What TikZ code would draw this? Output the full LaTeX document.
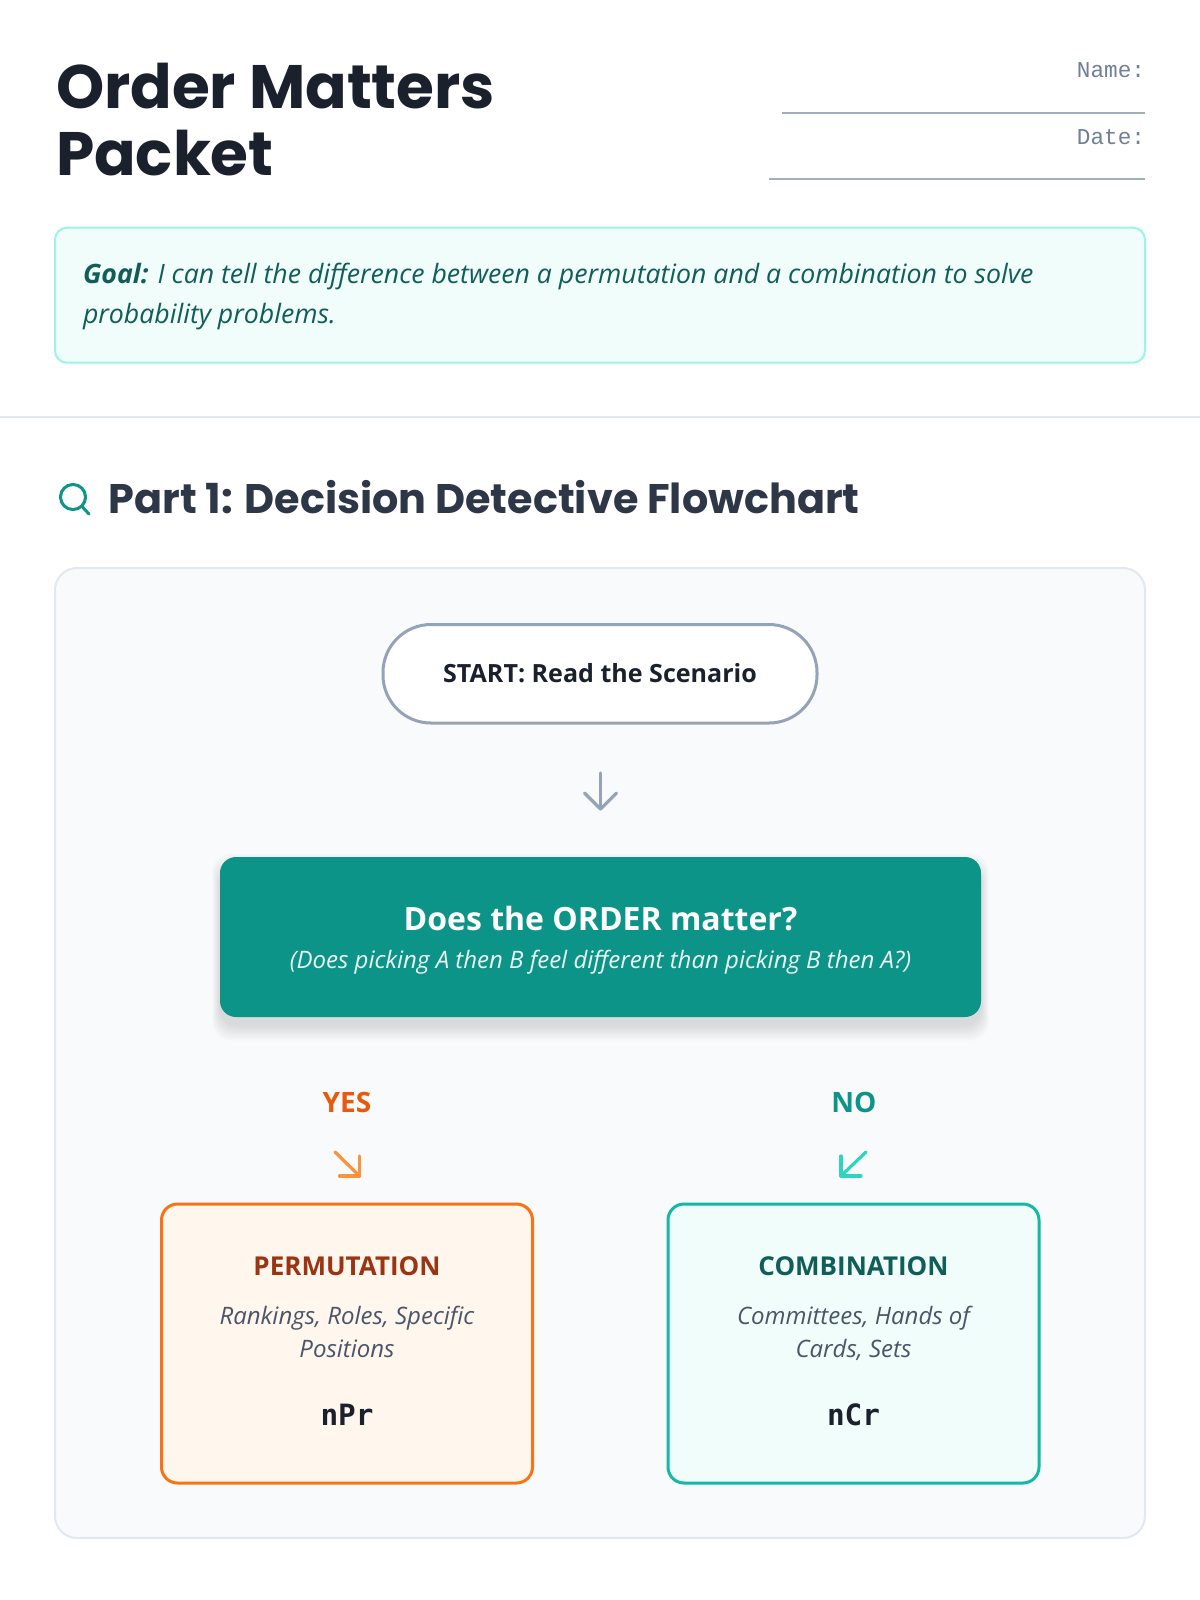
\documentclass[tikz,border=0pt]{standalone}
\usepackage{fontspec}
\setmainfont{Open Sans}
\newfontfamily\headfont{Poppins}
\newfontfamily\bodyfont{Open Sans}
\newfontfamily\codefont{Liberation Mono}
\newfontfamily\formulafont{DejaVu Sans Mono}
\definecolor{titlecol}{HTML}{1A202C}
\definecolor{headcol}{HTML}{2D3748}
\definecolor{namecol}{HTML}{718096}
\definecolor{linecol}{HTML}{A0AEC0}
\definecolor{goalfill}{HTML}{F0FDFA}
\definecolor{goalborder}{HTML}{99F6E4}
\definecolor{goaltext}{HTML}{115E59}
\definecolor{rulecol}{HTML}{E2E8F0}
\definecolor{boxfill}{HTML}{F8FAFC}
\definecolor{pillborder}{HTML}{94A3B8}
\definecolor{teal}{HTML}{0D9488}
\definecolor{yescol}{HTML}{EA580C}
\definecolor{yesarrow}{HTML}{FB923C}
\definecolor{permborder}{HTML}{F97316}
\definecolor{permfill}{HTML}{FFF7ED}
\definecolor{permtitle}{HTML}{9A3412}
\definecolor{noarrow}{HTML}{2DD4BF}
\definecolor{combborder}{HTML}{14B8A6}
\definecolor{combfill}{HTML}{F0FDFA}
\definecolor{combtitle}{HTML}{115E59}
\definecolor{desccol}{HTML}{4A5568}
\tikzset{
  lbl/.style={inner sep=0pt, outer sep=0pt},
  titletext/.style={lbl, anchor=base west, text=titlecol, font=\headfont\bfseries\fontsize{46}{50}\selectfont},
  nametext/.style={lbl, anchor=base east, text=namecol, font=\codefont\fontsize{17}{20}\selectfont},
  blankline/.style={draw=linecol, line width=1.5pt},
  goaltextstyle/.style={lbl, anchor=base west, text=goaltext, font=\bodyfont\itshape\fontsize{20}{24}\selectfont},
  glyph/.style={line width=2.4pt, line cap=round, line join=round},
  choicebox/.style={line width=2.25pt, rounded corners=12pt},
  choicetitle/.style={lbl, anchor=base, font=\bodyfont\bfseries\fontsize{19.5}{22}\selectfont},
  desctext/.style={lbl, anchor=base, text=desccol, font=\bodyfont\itshape\fontsize{18}{22}\selectfont},
  codetext/.style={lbl, anchor=base, text=titlecol, font=\formulafont\bfseries\fontsize{22}{24}\selectfont},
  branchlabel/.style={lbl, anchor=base, font=\bodyfont\bfseries\fontsize{21}{24}\selectfont},
}
\begin{document}
\begin{tikzpicture}[x=0.75pt,y=-0.75pt]
\useasboundingbox[fill=white] (0,0) rectangle (1200,1600);
% header
\node[titletext] (title1) at (56,108.3) {Order Matters};
\node[titletext] (title2) at (56,175) {Packet};
\node[nametext] (name) at (1145,77.3) {Name:};
\node[nametext] (date) at (1145,144) {Date:};
\draw[blankline] (782,112.7) -- (1145,112.7);
\draw[blankline] (769,179.3) -- (1145,179.3);
% goal
\draw[fill=goalfill, draw=goalborder, line width=1.5pt, rounded corners=9pt] (55,227.7) rectangle (1145,362.7);
\node[goaltextstyle] (goal1) at (83,283) {\textbf{Goal:} I can tell the difference between a permutation and a combination to solve};
\node[goaltextstyle] (goal2) at (83,323) {probability problems.};
% rule
\draw[draw=rulecol, line width=1.5pt] (0,417) -- (1200,417);
% heading
\draw[draw=teal, line width=2.25pt, line cap=round] (73,497) circle (9.4pt);
\draw[draw=teal, line width=2.25pt, line cap=round] (82,506.5) -- (89,514);
\node[lbl, anchor=base west, text=headcol, font=\headfont\bfseries\fontsize{31}{34}\selectfont] (heading) at (108.5,513.5) {Part 1: Decision Detective Flowchart};
% container
\draw[fill=boxfill, draw=rulecol, line width=1.5pt, rounded corners=16.5pt] (55,568) rectangle (1145,1538);
% start pill
\draw[fill=white, draw=pillborder, line width=2.25pt, rounded corners=36pt] (383,624.5) rectangle (817,723);
\node[lbl, anchor=base, text=titlecol, font=\bodyfont\bfseries\fontsize{18.8}{22}\selectfont] (start) at (600,682) {START: Read the Scenario};
% down arrow
\coordinate (d1) at (600.5,773);
\coordinate (d2) at (600.5,809);
\draw[glyph, draw=pillborder] (d1) -- (d2);
\draw[glyph, draw=pillborder] ([xshift=-12pt,yshift=12pt]d2) -- (d2) -- ([xshift=12pt,yshift=12pt]d2);
% question box with soft shadow
\foreach \i in {1,...,16}{
  \fill[black, opacity=0.009, rounded corners=14pt] (220-0.5*\i,857+12-\i) rectangle (981+0.5*\i,1017+8+\i);
}
\fill[teal, rounded corners=12pt] (220,857) rectangle (981,1017);
\node[lbl, anchor=base, text=white, font=\bodyfont\bfseries\fontsize{24}{28}\selectfont] (question) at (600.5,930.6) {Does the ORDER matter?};
\node[lbl, anchor=base, text=white, opacity=0.92, font=\bodyfont\itshape\fontsize{18}{22}\selectfont] (questionsub) at (600.5,968) {(Does picking A then B feel different than picking B then A?)};
% branch labels
\node[branchlabel, text=yescol] (yes) at (347,1112.5) {YES};
\node[branchlabel, text=teal] (no) at (854,1112.5) {NO};
% yes arrow
\coordinate (ya) at (335,1152);
\coordinate (yb) at (359.5,1176);
\draw[glyph, draw=yesarrow] (ya) -- (yb);
\draw[glyph, draw=yesarrow] ([xshift=-15pt]yb) -- (yb) -- ([yshift=15pt]yb);
% no arrow
\coordinate (na) at (866,1152);
\coordinate (nb) at (841,1176);
\draw[glyph, draw=noarrow] (na) -- (nb);
\draw[glyph, draw=noarrow] ([xshift=15pt]nb) -- (nb) -- ([yshift=15pt]nb);
% permutation
\draw[choicebox, fill=permfill, draw=permborder] (161.5,1204) rectangle (532.5,1483);
\node[choicetitle, text=permtitle] (perm) at (347,1275.7) {PERMUTATION};
\node[desctext] (perm1) at (347,1324) {Rankings, Roles, Specific};
\node[desctext] (perm2) at (347,1357) {Positions};
\node[codetext] (npr) at (347,1425) {nPr};
% combination
\draw[choicebox, fill=combfill, draw=combborder] (668,1204) rectangle (1039,1483);
\node[choicetitle, text=combtitle] (comb) at (853.5,1275.7) {COMBINATION};
\node[desctext] (comb1) at (853.5,1324) {Committees, Hands of};
\node[desctext] (comb2) at (853.5,1357) {Cards, Sets};
\node[codetext] (ncr) at (853.5,1425) {nCr};
\end{tikzpicture}
\end{document}
